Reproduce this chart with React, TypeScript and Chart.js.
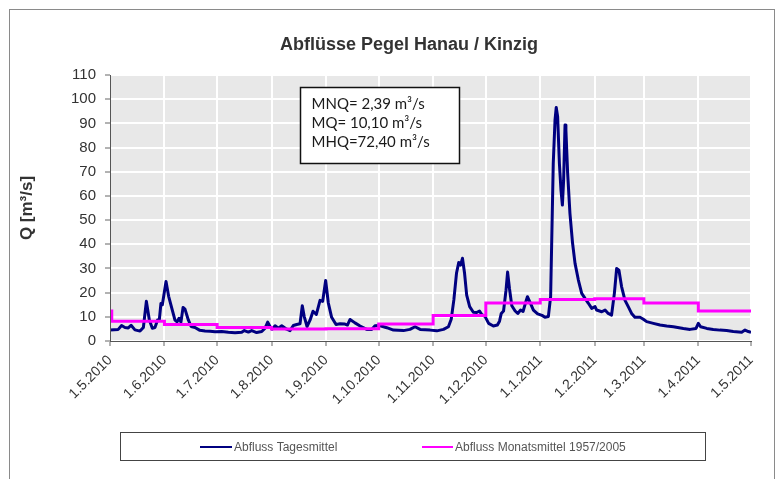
import React, { useEffect, useRef } from "react";
import { Chart, registerables } from "chart.js";

Chart.register(...registerables);

const chartTitle = "Abflüsse Pegel Hanau / Kinzig";
const yAxisTitle = "Q [m³/s]";
const seriesNames = ["Abfluss Tagesmittel", "Abfluss Monatsmittel 1957/2005"];
const annotationLines = ["MNQ= 2,39 m³/s", "MQ= 10,10 m³/s", "MHQ=72,40 m³/s"];

// x axis: days since 1.5.2010
const monthTickDays = [0, 31, 61, 92, 123, 153, 184, 214, 245, 276, 304, 335, 365];
const monthTickLabels = [
  "1.5.2010", "1.6.2010", "1.7.2010", "1.8.2010", "1.9.2010", "1.10.2010",
  "1.11.2010", "1.12.2010", "1.1.2011", "1.2.2011", "1.3.2011", "1.4.2011", "1.5.2011",
];
const yMin = 0;
const yMax = 110;
const yStep = 10;

// Abfluss Tagesmittel (daily mean discharge)
const dailyDays = [
  0, 4.7, 6.6, 8.5, 10.4, 12, 14.2, 17.1, 19, 20.7, 22.4, 24.1, 25.6, 27.1, 28.1, 29, 29.8,
  31.9, 33.4, 35.1, 37, 38.2, 39.3, 40.4, 41.6, 42.7, 44.6, 46.2, 48.4, 51.2, 54.1, 57, 59.8,
  63.6, 67.4, 71.2, 75, 76.5, 78.8, 80.7, 83.5, 86.4, 88.3, 89.8, 91.1, 92.4, 94, 95.9, 97.8,
  100.6, 102.5, 104.4, 106.3, 108.2, 109.5, 110.6, 112.2, 113.9, 115.6, 117.5, 119.6, 121.1,
  122.8, 124.3, 126.2, 128.7, 131, 133.8, 135.2, 136.7, 139.5, 142.4, 146.2, 149, 150.9, 153.4,
  157.6, 161.4, 167.1, 170.8, 173.7, 176.6, 182.3, 186.1, 189.9, 192.7, 194.3, 195.8, 197.3,
  198.6, 199.6, 200.7, 201.9, 203.1, 204.8, 206.9, 208.8, 210.4, 211.7, 213.6, 215.6, 218.3,
  220.6, 221.8, 222.8, 224.1, 225.5, 226.4, 227.5, 228.8, 230.7, 232.2, 233.8, 235.2, 236.6,
  237.7, 239.2, 241.1, 243.5, 246, 247.7, 249.6, 250.9, 252.4, 253.4, 254.1, 254.9, 255.9,
  256.8, 257.6, 258.3, 259.1, 259.6, 260.6, 261.9, 263.4, 264.8, 266.7, 268.6, 270.5, 272.4,
  274.3, 276.2, 277.1, 280, 281.9, 283.7, 285.6, 287.2, 288.5, 289.8, 291.3, 293.2, 295.1, 297,
  298.9, 301.8, 303.7, 305.6, 309.4, 313.2, 317, 320.8, 326.5, 330.3, 333.7, 335, 336.3, 339.8,
  343.5, 347.3, 351.1, 354.9, 359.7, 361.6, 363.5, 365,
];
const dailyFlow = [
  4.5, 4.8, 6.4, 5.6, 5.4, 6.5, 4.6, 4.1, 5.6, 16.4, 8.7, 5.3, 5.6, 8.7, 8.9, 15.5, 15.0,
  24.6, 18.5, 13.8, 8.6, 7.9, 9.4, 7.8, 13.9, 13.2, 8.7, 6.0, 5.6, 4.4, 4.1, 4.0, 3.8,
  3.9, 3.6, 3.4, 3.6, 4.3, 3.7, 4.3, 3.5, 3.9, 5.3, 7.8, 6.0, 4.9, 6.3, 5.3, 6.3,
  4.9, 4.3, 6.4, 6.8, 7.1, 14.6, 10.1, 6.0, 8.6, 12.3, 11.0, 16.8, 16.4,
  25.0, 15.8, 9.8, 6.8, 7.1, 7.0, 6.6, 8.9, 7.5, 6.2, 4.8, 4.8, 6.3, 6.4,
  5.5, 4.5, 4.3, 4.8, 5.9, 4.8, 4.5, 4.2, 4.8, 5.9, 9.0, 17.0, 28.0,
  32.5, 31.4, 34.2, 28.0, 19.0, 14.2, 11.9, 11.8, 12.4, 10.9, 10.1, 7.3, 6.2,
  6.6, 8.2, 11.4, 12.4, 21.0, 28.5, 21.5, 14.6, 12.4, 11.4, 12.8, 12.2, 15.8,
  18.3, 16.0, 12.8, 11.2, 10.6, 9.8, 10.1, 18.3, 73.4, 91.3, 96.6, 92.7, 73.4,
  62.4, 56.2, 66.5, 89.3, 87.2, 69.3, 52.8, 40.4, 32.1, 25.2, 19.7, 17.6, 15.6,
  13.5, 14.2, 12.8, 12.1, 12.8, 11.4, 10.7, 19.7, 30.0, 29.3, 22.5, 16.9, 14.2, 11.4,
  9.8, 9.8, 9.0, 8.0, 7.3, 6.6, 6.2, 5.9, 5.2, 4.8, 5.2, 7.3, 5.9, 5.2,
  4.8, 4.5, 4.3, 3.9, 3.6, 4.5, 3.9, 3.6,
];

// Abfluss Monatsmittel 1957/2005 (monthly long-term mean, step line)
const monthlyDays = [0, 1, 31, 61, 92, 123, 153, 184, 214, 245, 276, 304, 335, 365];
const monthlyMeans = [12.4, 8.2, 6.8, 5.6, 5.0, 5.1, 7.0, 10.5, 15.7, 17.2, 17.5, 15.7, 12.4, 12.4];

const FONT = "'Liberation Sans', Arial, Helvetica, sans-serif";

const decorPlugin = {
  id: "decor",
  beforeDraw(chart: any) {
    const { ctx, chartArea: a, width } = chart;
    ctx.save();
    ctx.fillStyle = "#ffffff";
    ctx.fillRect(0, 0, chart.width, chart.height);
    ctx.strokeStyle = "#8a8a8a";
    ctx.lineWidth = 1;
    ctx.strokeRect(9.5, 9.5, width - 16 - 0, chart.height + 40);
    ctx.fillStyle = "#e8e8e8";
    ctx.fillRect(a.left, a.top, a.right - a.left, a.bottom - a.top);
    // title
    ctx.fillStyle = "#333333";
    ctx.font = `bold 18px ${FONT}`;
    ctx.textAlign = "center";
    ctx.textBaseline = "middle";
    ctx.fillText(chartTitle, a.left + 299, a.top - 30);
    ctx.restore();
  },
  afterDraw(chart: any) {
    const { ctx, chartArea: a } = chart;
    ctx.save();
    // annotation box
    const bx = Math.round(a.left + 190) + 0.5;
    const by = Math.round(a.top + 12) + 0.5;
    ctx.fillStyle = "#ffffff";
    ctx.fillRect(bx, by, 159, 76);
    ctx.strokeStyle = "#111111";
    ctx.lineWidth = 1.5;
    ctx.strokeRect(bx, by, 159, 76);
    ctx.fillStyle = "#1a1a1a";
    ctx.font = `15px Lato, 'Open Sans', sans-serif`;
    ctx.textAlign = "left";
    ctx.textBaseline = "middle";
    annotationLines.forEach((t, i) => ctx.fillText(t, bx + 11, by + 17 + i * 19));

    // legend box
    const lx = 120.5;
    const ly = 432.5;
    ctx.strokeStyle = "#444444";
    ctx.lineWidth = 1;
    ctx.strokeRect(lx, ly, 585, 28);
    const items = [
      { x: 200, w: 32 },
      { x: 422, w: 31 },
    ];
    const ds = chart.data.datasets;
    ctx.font = `12px ${FONT}`;
    ctx.textBaseline = "middle";
    items.forEach((it, i) => {
      const d = ds.find((q: any) => q.label === seriesNames[i]);
      ctx.strokeStyle = d ? d.borderColor : "#000";
      ctx.lineWidth = 2;
      ctx.beginPath();
      ctx.moveTo(it.x, ly + 14.5);
      ctx.lineTo(it.x + it.w, ly + 14.5);
      ctx.stroke();
      ctx.fillStyle = "#555555";
      ctx.fillText(seriesNames[i], it.x + it.w + 2, ly + 15);
    });
    ctx.restore();
  },
};

export default function App() {
  const ref = useRef<HTMLCanvasElement>(null);
  useEffect(() => {
    if (!ref.current) return;
    const daily = dailyDays.map((d, i) => ({ x: d, y: dailyFlow[i] }));
    const monthly = monthlyDays.map((d, i) => ({ x: d, y: monthlyMeans[i] }));
    const chart = new Chart(ref.current, {
      type: "line",
      data: {
        datasets: [
          {
            label: seriesNames[0],
            data: daily,
            borderColor: "#000080",
            backgroundColor: "#000080",
            borderWidth: 3,
            pointRadius: 0,
            tension: 0,
            borderJoinStyle: "round",
            order: 2,
          },
          {
            label: seriesNames[1],
            data: monthly,
            borderColor: "#ff00ff",
            backgroundColor: "#ff00ff",
            borderWidth: 3,
            pointRadius: 0,
            stepped: "before",
            order: 1,
          },
        ],
      },
      options: {
        animation: false,
        responsive: false,
        devicePixelRatio: 1,
        layout: { padding: { left: 0, right: 30, top: 75, bottom: 0 } },
        plugins: {
          legend: { display: false },
          title: { display: false },
          tooltip: { enabled: false },
        },
        scales: {
          x: {
            type: "linear",
            min: monthTickDays[0],
            max: monthTickDays[monthTickDays.length - 1],
            afterBuildTicks: (s: any) => {
              s.ticks = monthTickDays.map((v) => ({ value: v }));
            },
            afterFit: (s: any) => {
              s.height = 138;
            },
            ticks: {
              autoSkip: false,
              minRotation: 45,
              maxRotation: 45,
              padding: 6,
              color: "#333333",
              font: { family: FONT, size: 14 },
              callback: (_v: any, i: number) => monthTickLabels[i],
            },
            grid: {
              color: "#ffffff",
              lineWidth: 2,
              tickColor: "#666666",
              tickWidth: 1,
              tickLength: 5,
            },
            border: { display: true, color: "#555555", width: 1, z: 1 },
          },
          y: {
            min: yMin,
            max: yMax,
            afterFit: (s: any) => {
              s.width = 110;
            },
            ticks: {
              stepSize: yStep,
              padding: 9,
              color: "#333333",
              font: { family: FONT, size: 15 },
            },
            grid: {
              color: "#ffffff",
              lineWidth: 2,
              tickColor: "#666666",
              tickWidth: 1,
              tickLength: 5,
            },
            border: { display: true, color: "#555555", width: 1, z: 1 },
            title: {
              display: true,
              text: yAxisTitle,
              color: "#333333",
              font: { family: FONT, size: 17, weight: "bold" },
              padding: { top: 17, bottom: 0 },
            },
          },
        },
      },
      plugins: [decorPlugin],
    } as any);
    return () => chart.destroy();
  }, []);
  return (
    <div style={{ position: "absolute", left: 0, top: 0, width: 781, height: 479 }}>
      <canvas ref={ref} width={781} height={479} style={{ display: "block", width: 781, height: 479 }} />
    </div>
  );
}
